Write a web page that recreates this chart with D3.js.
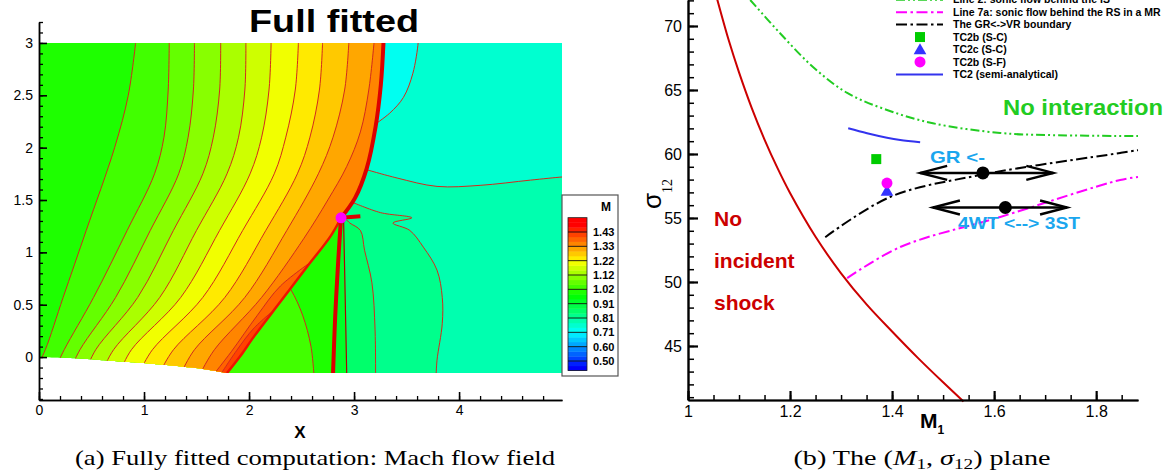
<!DOCTYPE html>
<html>
<head>
<meta charset="utf-8">
<script src="https://cdn.jsdelivr.net/npm/d3@7/dist/d3.min.js"></script>
<style>
  html, body { margin: 0; padding: 0; background: #fff; }
  svg { display: block; }
  text { font-family: "Liberation Sans", Arial, Helvetica, sans-serif; }
</style>
</head>
<body>
<svg id="fig" width="1171" height="475"></svg>
<script>
// ================= Panel (a): Mach number field, fully fitted computation =================
// contour levels: one every third is labelled on the colour bar
const machStep = 0.1033333 / 3;
const machLevels = d3.range(-2, 31).map(k => 0.5 + k * machStep);
const machTickValues = [1.43, 1.3267, 1.2233, 1.12, 1.0167, 0.9133, 0.81, 0.7067, 0.6033, 0.50];
const machTickLabels = ["1.43", "1.33", "1.22", "1.12", "1.02", "0.91", "0.81", "0.71", "0.60", "0.50"];

// domain geometry (x, y)
const wallPts = [[0, 0], [0.35, -0.012], [0.71, -0.038], [1.0, -0.058], [1.26, -0.081], [1.55, -0.112], [1.79, -0.153]];
const incidentShock = [[3.28, 3.0], [3.255, 2.6], [3.205, 2.2], [3.12, 1.8], [3.01, 1.52], [2.876, 1.33]];
const machStem = [[2.876, 1.33], [2.85, 0.93], [2.82, 0.38], [2.80, -0.153]];
const reflectedShock = [[2.876, 1.33], [2.78, 1.16], [2.55, 0.86], [2.30, 0.53], [2.05, 0.2], [1.91, 0.0], [1.79, -0.153]];
const slipLine = [[2.90, 1.33], [2.915, 0.6], [2.93, -0.153]];
const shockStub = [[2.876, 1.33], [3.06, 1.345]];
const triplePoint = [2.876, 1.33];

// iso-Mach lines upstream of the shocks (wall -> top)
const fanLines = [
  [[-0.02, -0.1], [0.06, 0.07], [0.23, 0.57], [0.45, 1.21], [0.72, 2.0], [0.85, 2.5], [0.92, 3.0]],
  [[0.15, -0.12], [0.24, 0.07], [0.52, 0.57], [0.84, 1.21], [1.10, 1.75], [1.19, 2.1], [1.23, 2.55], [1.24, 3.0]],
  [[0.30, -0.12], [0.39, 0.07], [0.73, 0.57], [1.06, 1.21], [1.33, 1.75], [1.42, 2.1], [1.47, 2.55], [1.48, 3.0]],
  [[0.45, -0.12], [0.54, 0.07], [0.94, 0.57], [1.28, 1.21], [1.56, 1.75], [1.66, 2.1], [1.72, 2.55], [1.73, 3.0]],
  [[0.61, -0.12], [0.71, 0.07], [1.15, 0.57], [1.50, 1.21], [1.79, 1.75], [1.90, 2.1], [1.96, 2.55], [1.97, 3.0]],
  [[0.78, -0.12], [0.88, 0.07], [1.35, 0.57], [1.72, 1.21], [2.01, 1.75], [2.12, 2.1], [2.19, 2.55], [2.21, 3.0]],
  [[0.97, -0.12], [1.08, 0.07], [1.56, 0.57], [1.94, 1.21], [2.24, 1.75], [2.35, 2.1], [2.44, 2.55], [2.47, 3.0]],
  [[1.16, -0.13], [1.28, 0.07], [1.77, 0.57], [2.16, 1.21], [2.46, 1.75], [2.58, 2.1], [2.67, 2.55], [2.70, 3.0]],
  [[1.36, -0.14], [1.48, 0.07], [1.96, 0.57], [2.36, 1.21], [2.66, 1.75], [2.80, 2.1], [2.91, 2.55], [2.95, 3.0]],
  [[1.54, -0.15], [1.67, 0.07], [2.12, 0.57], [2.52, 1.13], [2.75, 1.5], [2.93, 1.82], [3.06, 2.15], [3.14, 2.55], [3.19, 3.0]],
  [[1.66, -0.17], [1.83, 0.05], [2.08, 0.40], [2.30, 0.68], [2.65, 0.95]],
  [[1.72, -0.18], [1.88, 0.06], [2.05, 0.28], [2.30, 0.50]]
];
const fanBandMach = [0.999, 1.034, 1.068, 1.103, 1.137, 1.172, 1.206, 1.241, 1.275, 1.310, 1.344, 1.379, 1.413];

// region between reflected shock and Mach stem
const stemLine = [[2.62, -0.2], [2.59, 0.1], [2.51, 0.40], [2.40, 0.64], [2.32, 0.74]];
const stemBandMach = [0.999, 1.034];

// downstream iso-Mach lines
const cyanLine = [[3.61, 3.05], [3.61, 3.0], [3.56, 2.71], [3.47, 2.48], [3.34, 2.33], [3.18, 2.21]];
const tealLine = [[3.10, 1.795], [3.41, 1.71], [3.79, 1.63], [4.2, 1.64], [4.68, 1.69], [4.98, 1.72], [5.05, 1.725]];
const loopLine = [[2.98, 1.48], [3.25, 1.38], [3.55, 1.33], [3.37, 1.28], [3.53, 1.21], [3.66, 1.05], [3.79, 0.83], [3.84, 0.57], [3.84, 0.32], [3.79, -0.03], [3.78, -0.2]];
const kinkLine = [[2.93, 1.31], [2.96, 1.28], [3.06, 1.21], [3.10, 1.02], [3.17, 0.71], [3.20, 0.26], [3.205, -0.2]];
// Mach of downstream regions: base, above teal line, cyan pocket, inside loop, left of kink line, stem/slip strip
const downstreamMach = { base: 0.792, upper: 0.758, cyan: 0.724, loop: 0.827, kink: 0.861, strip: 0.930 };

// ================= Panel (b): the (M1, sigma12) plane =================
const redCurve = [[1.055, 72.41], [1.08, 68.86], [1.10, 66.38], [1.125, 63.59], [1.15, 61.13], [1.175, 58.93], [1.2, 56.95],
  [1.25, 53.53], [1.30, 50.68], [1.35, 48.25], [1.40, 46.13], [1.45, 44.09], [1.50, 42.16], [1.54, 40.66]];
const line2 = [[1.122, 72.03], [1.18, 69.45], [1.245, 66.8], [1.312, 64.77], [1.39, 63.44], [1.48, 62.4], [1.612, 61.64], [1.704, 61.48], [1.882, 61.4]];
const line7a = [[1.312, 50.3], [1.416, 52.73], [1.612, 55.08], [1.847, 57.97], [1.882, 58.2]];
const grvrBoundary = [[1.269, 53.5], [1.396, 56.64], [1.573, 58.36], [1.847, 60.08], [1.882, 60.3]];
const tc2Analytical = [[1.314, 62.01], [1.351, 61.62], [1.39, 61.27], [1.416, 61.09], [1.455, 60.91]];
const tc2bSC = [1.369, 59.6];
const tc2cSC = [1.39, 57.03];
const tc2bSF = [1.39, 57.73];
const arrowY = [58.52, 55.82];
const arrowFrom = [1.455, 1.48];
const arrowTo = [1.716, 1.743];
const arrowDot = [1.578, 1.622];
const legendNames = ["Line 2: sonic flow behind the IS", "Line 7a: sonic flow behind the RS in a MR",
  "The GR<->VR boundary", "TC2b (S-C)", "TC2c (S-C)", "TC2b (S-F)", "TC2 (semi-analytical)"];
const xTicksB = [1, 1.2, 1.4, 1.6, 1.8];
const yTicksB = [45, 50, 55, 60, 65, 70];

// ---------------------------------------------------------------------------
const svg = d3.select("#fig");
const defs = svg.append("defs");

const xA = d3.scaleLinear().domain([0, 4.98]).range([39, 562]);
const yA = d3.scaleLinear().domain([-0.41, 3.2]).range([400, 22]);
const machColor = d3.scaleLinear()
  .domain([0.42, 0.45, 0.71, 0.97, 1.22, 1.48])
  .range(["#0000b4", "#0000ff", "#00ffff", "#00ff00", "#ffff00", "#ff0000"])
  .clamp(true);

const smooth = d3.line().curve(d3.curveCatmullRom.alpha(0.5));
const straight = d3.line();
const toPx = pts => pts.map(p => [xA(p[0]), yA(p[1])]);
const rev = a => a.slice().reverse();
const probe = svg.append("path").attr("fill", "none").attr("stroke", "none");
function samplePx(pts, n = 90) {
  probe.attr("d", smooth(toPx(pts)));
  const node = probe.node(), len = node.getTotalLength();
  return d3.range(n + 1).map(i => { const q = node.getPointAtLength(len * i / n); return [q.x, q.y]; });
}
const polyD = px => straight(px) + "Z";
const bandD = (pts, closure) => polyD([...samplePx(pts), ...toPx(closure)]);

const yBottom = -0.153, xRight = 4.98;
const fieldPx = [[xA(0), yA(3)], [xA(xRight), yA(3)], [xA(xRight), yA(yBottom)], ...samplePx(rev(wallPts))];
const regionAPx = [[xA(0), yA(3)], ...samplePx(incidentShock), ...samplePx(reflectedShock), ...samplePx(rev(wallPts))];
const regionCPx = [...samplePx(machStem), ...samplePx(rev(reflectedShock))];
const regionRPx = [[xA(xRight), yA(3)], [xA(xRight), yA(yBottom)], ...samplePx(rev(machStem)), ...samplePx(rev(incidentShock))];

function addClip(id, px) { defs.append("clipPath").attr("id", id).append("path").attr("d", polyD(px)); }
addClip("clipField", fieldPx);
addClip("clipA", regionAPx);
addClip("clipC", regionCPx);
addClip("clipR", regionRPx);

const first = a => a[0], last = a => a[a.length - 1];

// --- downstream side
const gR = svg.append("g").attr("clip-path", "url(#clipR)");
gR.append("path").attr("d", polyD(regionRPx)).attr("fill", machColor(downstreamMach.base));
gR.append("path").attr("d", bandD(tealLine, [[9, last(tealLine)[1]], [9, 9], [-5, 9], [-5, first(tealLine)[1]]]))
  .attr("fill", machColor(downstreamMach.upper));
gR.append("path").attr("d", bandD(cyanLine, [[-5, last(cyanLine)[1]], [-5, 9], [first(cyanLine)[0], 9]]))
  .attr("fill", machColor(downstreamMach.cyan));
gR.append("path").attr("d", bandD(loopLine, [[last(loopLine)[0], -1], [-5, -1], [-5, first(loopLine)[1]]]))
  .attr("fill", machColor(downstreamMach.loop));
gR.append("path").attr("d", bandD(kinkLine, [[last(kinkLine)[0], -1], [-5, -1], [-5, first(kinkLine)[1]]]))
  .attr("fill", machColor(downstreamMach.kink));
gR.append("path").attr("d", bandD(slipLine, [[last(slipLine)[0], -1], [-5, -1], [-5, first(slipLine)[1]]]))
  .attr("fill", machColor(downstreamMach.strip));

// --- between reflected shock and Mach stem
const gC = svg.append("g").attr("clip-path", "url(#clipC)");
gC.append("path").attr("d", polyD(regionCPx)).attr("fill", machColor(stemBandMach[0]));
gC.append("path").attr("d", bandD(stemLine, [[-5, last(stemLine)[1]], [-5, -1], [first(stemLine)[0], -1]]))
  .attr("fill", machColor(stemBandMach[1]));

// --- upstream expansion region
const gA = svg.append("g").attr("clip-path", "url(#clipA)");
gA.append("path").attr("d", polyD(regionAPx)).attr("fill", machColor(fanBandMach[0]));
fanLines.forEach((ln, k) => {
  gA.append("path").attr("d", bandD(ln, [[9, last(ln)[1]], [9, -1], [first(ln)[0], -1]]))
    .attr("fill", machColor(fanBandMach[k + 1]));
});

// --- iso-lines
const isoStroke = "#d22a1c";
fanLines.forEach(ln => gA.append("path").attr("d", smooth(toPx(ln))).attr("fill", "none").attr("stroke", isoStroke).attr("stroke-width", 1));
gC.append("path").attr("d", smooth(toPx(stemLine))).attr("fill", "none").attr("stroke", isoStroke).attr("stroke-width", 1);
[tealLine, cyanLine, loopLine, kinkLine].forEach(ln =>
  gR.append("path").attr("d", smooth(toPx(ln))).attr("fill", "none").attr("stroke", isoStroke).attr("stroke-width", 1));
gR.append("path").attr("d", smooth(toPx(slipLine))).attr("fill", "none").attr("stroke", "#b00000").attr("stroke-width", 1.2);

// --- fitted discontinuities
const gS = svg.append("g").attr("clip-path", "url(#clipField)");
gS.append("path").attr("d", smooth(toPx(reflectedShock))).attr("fill", "none").attr("stroke", "#ee1400").attr("stroke-width", 2.5);
gS.append("path").attr("d", smooth(toPx(incidentShock))).attr("fill", "none").attr("stroke", "#dc0000").attr("stroke-width", 4);
gS.append("path").attr("d", smooth(toPx(machStem))).attr("fill", "none").attr("stroke", "#dc0000").attr("stroke-width", 4);
gS.append("path").attr("d", straight(toPx(shockStub))).attr("fill", "none").attr("stroke", "#dc0000").attr("stroke-width", 4);
svg.append("circle").attr("cx", xA(triplePoint[0])).attr("cy", yA(triplePoint[1])).attr("r", 5.5).attr("fill", "#ff00ff");

// --- axes of panel (a)
function drawAxis(g, axis, width) {
  g.call(axis);
  g.select(".domain").attr("stroke", "#000").attr("stroke-width", width);
  g.selectAll(".tick line").attr("stroke", "#000").attr("stroke-width", width);
}
const gxA = svg.append("g").attr("transform", `translate(0,${yA(-0.41)})`);
drawAxis(gxA, d3.axisBottom(xA).tickValues(d3.range(0, 5, 0.2)).tickSize(-4).tickSizeOuter(0).tickFormat(""), 1.3);
const gxA2 = svg.append("g").attr("transform", `translate(0,${yA(-0.41)})`);
drawAxis(gxA2, d3.axisBottom(xA).tickValues([0, 1, 2, 3, 4]).tickSize(-8).tickSizeOuter(0).tickPadding(5).tickFormat(d3.format("d")), 1.6);
gxA2.selectAll("text").style("font-size", "14px").attr("fill", "#000");

const gyA = svg.append("g").attr("transform", `translate(${xA(0)},0)`);
drawAxis(gyA, d3.axisLeft(yA).tickValues(d3.range(-0.4, 3.21, 0.1)).tickSize(-4).tickSizeOuter(0).tickFormat(""), 1.3);
const gyA2 = svg.append("g").attr("transform", `translate(${xA(0)},0)`);
drawAxis(gyA2, d3.axisLeft(yA).tickValues([0, 0.5, 1, 1.5, 2, 2.5, 3]).tickSize(-8).tickSizeOuter(0).tickPadding(6).tickFormat(d => String(d)), 1.6);
gyA2.selectAll("text").style("font-size", "14px").attr("fill", "#000");

svg.append("text").attr("x", 300).attr("y", 438).attr("text-anchor", "middle")
  .style("font-size", "17px").style("font-weight", "bold").text("X");
svg.append("text").attr("x", 334).attr("y", 32).attr("text-anchor", "middle")
  .attr("textLength", 170).attr("lengthAdjust", "spacingAndGlyphs")
  .style("font-size", "31px").style("font-weight", "bold").text("Full fitted");

// --- colour bar
const cb = svg.append("g");
cb.append("rect").attr("x", 562).attr("y", 195).attr("width", 56).attr("height", 181)
  .attr("fill", "#fff").attr("stroke", "#555").attr("stroke-width", 1.2);
cb.append("text").attr("x", 606).attr("y", 211).attr("text-anchor", "middle")
  .style("font-size", "12px").style("font-weight", "bold").text("M");
const yCB = d3.scaleLinear().domain([0.50, 1.43]).range([361, 232]);
d3.pairs(machLevels).forEach(([lo, hi]) => {
  cb.append("rect").attr("x", 568).attr("width", 19)
    .attr("y", yCB(hi)).attr("height", yCB(lo) - yCB(hi) + 0.4)
    .attr("fill", machColor((lo + hi) / 2));
});
cb.append("rect").attr("x", 568).attr("width", 19).attr("y", yCB(last(machLevels)))
  .attr("height", yCB(machLevels[0]) - yCB(last(machLevels)))
  .attr("fill", "none").attr("stroke", "#222").attr("stroke-width", 0.8);
machTickValues.forEach((v, i) => {
  cb.append("line").attr("x1", 568).attr("x2", 587).attr("y1", yCB(v)).attr("y2", yCB(v))
    .attr("stroke", "#111").attr("stroke-width", 0.9);
  cb.append("text").attr("x", 593).attr("y", yCB(v)).attr("dy", "0.36em")
    .style("font-size", "11px").style("font-weight", "bold").text(machTickLabels[i]);
});

// --- caption (a)
svg.append("text").attr("x", 315).attr("y", 465).attr("text-anchor", "middle")
  .attr("textLength", 480).attr("lengthAdjust", "spacingAndGlyphs")
  .style("font-family", "'Liberation Serif', 'Times New Roman', serif").style("font-size", "21px")
  .text("(a) Fully fitted computation: Mach flow field");

// ================= draw panel (b) =================
const xB = d3.scaleLinear().domain([1, 1.882]).range([688, 1138]);
const yB = d3.scaleLinear().domain([40.78, 72.03]).range([400, 0]);
const lineB = d3.line().x(d => xB(d[0])).y(d => yB(d[1])).curve(d3.curveCatmullRom.alpha(0.5));
const dashDot = "11,3.5,2.5,3.5";
const dashDotDot = "9,3,2,3,2,3";

const plotB = svg.append("g");
plotB.append("path").attr("d", lineB(redCurve)).attr("fill", "none").attr("stroke", "#cc0000").attr("stroke-width", 2);
plotB.append("path").attr("d", lineB(line2)).attr("fill", "none").attr("stroke", "#22cc22").attr("stroke-width", 2).attr("stroke-dasharray", dashDotDot);
plotB.append("path").attr("d", lineB(line7a)).attr("fill", "none").attr("stroke", "#ff00ff").attr("stroke-width", 2).attr("stroke-dasharray", dashDot);
plotB.append("path").attr("d", lineB(grvrBoundary)).attr("fill", "none").attr("stroke", "#000").attr("stroke-width", 2).attr("stroke-dasharray", dashDot);
plotB.append("path").attr("d", lineB(tc2Analytical)).attr("fill", "none").attr("stroke", "#3333ee").attr("stroke-width", 2);

const squareSym = d3.symbol().type(d3.symbolSquare).size(100);
const triSym = d3.symbol().type(d3.symbolTriangle).size(70);
plotB.append("path").attr("d", squareSym()).attr("transform", `translate(${xB(tc2bSC[0])},${yB(tc2bSC[1])})`).attr("fill", "#00cc00");
plotB.append("path").attr("d", triSym()).attr("transform", `translate(${xB(tc2cSC[0])},${yB(tc2cSC[1])})`).attr("fill", "#3333ff");
plotB.append("circle").attr("cx", xB(tc2bSF[0])).attr("cy", yB(tc2bSF[1])).attr("r", 5.5).attr("fill", "#ff00ff");

// double-headed arrows with a marker dot
arrowY.forEach((v, i) => {
  const y = yB(v), x0 = xB(arrowFrom[i]), x1 = xB(arrowTo[i]);
  const g = plotB.append("g").attr("fill", "none").attr("stroke", "#000").attr("stroke-width", 2.4);
  g.append("line").attr("x1", x0).attr("x2", x1).attr("y1", y).attr("y2", y);
  g.append("path").attr("d", `M${x0 + 27},${y - 7}L${x0},${y}L${x0 + 27},${y + 7}`);
  g.append("path").attr("d", `M${x1 - 27},${y - 7}L${x1},${y}L${x1 - 27},${y + 7}`);
  plotB.append("circle").attr("cx", xB(arrowDot[i])).attr("cy", y).attr("r", 6.5).attr("fill", "#000");
});

// region annotations
const noteBlue = "#1aa6ee";
plotB.append("text").attr("x", 930).attr("y", 163).attr("textLength", 55).attr("lengthAdjust", "spacingAndGlyphs")
  .style("font-size", "17px").style("font-weight", "bold").attr("fill", noteBlue).text("GR <-");
plotB.append("text").attr("x", 958).attr("y", 229).attr("textLength", 122).attr("lengthAdjust", "spacingAndGlyphs")
  .style("font-size", "17px").style("font-weight", "bold").attr("fill", noteBlue).text("4WT <--> 3ST");
plotB.append("text").attr("x", 1003).attr("y", 115).attr("textLength", 160).attr("lengthAdjust", "spacingAndGlyphs")
  .style("font-size", "22px").style("font-weight", "bold").attr("fill", "#22cc22").text("No interaction");
["No", "incident", "shock"].forEach((w, i) => {
  plotB.append("text").attr("x", 714).attr("y", 226 + i * 42).style("font-size", "21px").style("font-weight", "bold").attr("fill", "#cc0000").text(w);
});

// axes of panel (b)
const gxB = svg.append("g").attr("transform", "translate(0,400)");
drawAxis(gxB, d3.axisBottom(xB).tickValues(d3.range(1, 1.881, 0.05)).tickSize(-5).tickSizeOuter(0).tickFormat(""), 1.5);
const gxB2 = svg.append("g").attr("transform", "translate(0,400)");
drawAxis(gxB2, d3.axisBottom(xB).tickValues(xTicksB).tickSize(-9).tickSizeOuter(0).tickPadding(6).tickFormat(d => String(d)), 2.2);
gxB2.selectAll("text").style("font-size", "16px").attr("fill", "#000");
const gyB = svg.append("g").attr("transform", "translate(688,0)");
drawAxis(gyB, d3.axisLeft(yB).tickValues(d3.range(41, 73, 1)).tickSize(-6).tickSizeOuter(0).tickFormat(""), 1.5);
const gyB2 = svg.append("g").attr("transform", "translate(688,0)");
drawAxis(gyB2, d3.axisLeft(yB).tickValues(yTicksB).tickSize(-10).tickSizeOuter(0).tickPadding(6).tickFormat(d => String(d)), 2.2);
gyB2.selectAll("text").style("font-size", "16px").attr("fill", "#000");

// axis titles
const mLab = svg.append("text").attr("x", 920).attr("y", 428).style("font-weight", "bold").style("font-size", "21px");
mLab.append("tspan").text("M");
mLab.append("tspan").attr("dy", 6).style("font-size", "12px").text("1");
const sLab = svg.append("text").attr("transform", "translate(661,209) rotate(-90)");
sLab.append("tspan").style("font-size", "26px").text("σ");
sLab.append("tspan").attr("dy", 11).style("font-size", "14px").style("font-family", "'Liberation Serif', serif").text("12");

// legend
const legend = svg.append("g");
legendNames.forEach((name, i) => {
  const cy = -0.3 + i * 12.45;
  legend.append("text").attr("x", 953).attr("y", cy).attr("dy", "0.36em")
    .style("font-size", "10.5px").style("font-weight", "bold").text(name);
});
const legLine = (i, color, dash) => legend.append("line").attr("x1", 896).attr("x2", 943)
  .attr("y1", -0.3 + i * 12.45).attr("y2", -0.3 + i * 12.45)
  .attr("stroke", color).attr("stroke-width", 2).attr("stroke-dasharray", dash);
legLine(0, "#22cc22", dashDotDot);
legLine(1, "#ff00ff", dashDot);
legLine(2, "#000", dashDot);
legend.append("path").attr("d", squareSym()).attr("transform", `translate(920,${-0.3 + 3 * 12.45})`).attr("fill", "#00cc00");
legend.append("path").attr("d", triSym()).attr("transform", `translate(920,${-0.3 + 4 * 12.45 + 1})`).attr("fill", "#3333ff");
legend.append("circle").attr("cx", 920).attr("cy", -0.3 + 5 * 12.45).attr("r", 5.5).attr("fill", "#ff00ff");
legLine(6, "#3333ee", null);

// caption (b)
const capB = svg.append("text").attr("x", 922).attr("y", 465).attr("text-anchor", "middle")
  .attr("textLength", 257).attr("lengthAdjust", "spacingAndGlyphs")
  .style("font-family", "'Liberation Serif', 'Times New Roman', serif").style("font-size", "22px");
capB.append("tspan").text("(b) The (");
capB.append("tspan").style("font-style", "italic").text("M");
capB.append("tspan").attr("dy", 4).style("font-size", "15px").text("1");
capB.append("tspan").attr("dy", -4).text(", ");
capB.append("tspan").style("font-style", "italic").text("σ");
capB.append("tspan").attr("dy", 4).style("font-size", "15px").text("12");
capB.append("tspan").attr("dy", -4).text(") plane");
</script>
</body>
</html>
